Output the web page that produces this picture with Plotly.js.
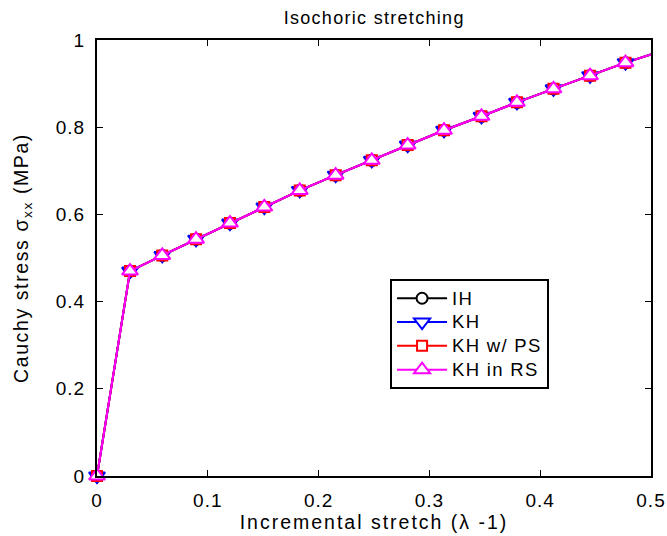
<!DOCTYPE html>
<html>
<head>
<meta charset="utf-8">
<script src="https://cdn.plot.ly/plotly-3.0.1.min.js"></script>
<style>
html,body{margin:0;padding:0;background:#fff;}
#plot{width:667px;height:536px;}
.xtick text, .ytick text {letter-spacing:1px;}
.xtitle {letter-spacing:2px;}
.ytitle {letter-spacing:1.6px;}
.gtitle {letter-spacing:1.3px;}
.legendtext {letter-spacing:1.3px; font-size:18.5px !important;}
</style>
</head>
<body>
<div id="plot"></div>
<script>
// Incremental stretch (lambda - 1) at the marked points
const stretch = [0, 0.0298, 0.0589, 0.0894, 0.120, 0.151, 0.183, 0.2154, 0.248, 0.2804, 0.3132, 0.347, 0.379, 0.412, 0.445, 0.477];
const stressIH      = [0, 0.470, 0.506, 0.543, 0.580, 0.617, 0.655, 0.690, 0.724, 0.759, 0.793, 0.825, 0.857, 0.888, 0.918, 0.948];
const stressKH      = [0, 0.470, 0.506, 0.543, 0.580, 0.617, 0.655, 0.690, 0.724, 0.759, 0.793, 0.825, 0.857, 0.888, 0.918, 0.948];
const stressKHwPS   = [0, 0.470, 0.506, 0.543, 0.580, 0.617, 0.655, 0.690, 0.724, 0.759, 0.793, 0.825, 0.857, 0.888, 0.918, 0.948];
const stressKHinRS  = [0, 0.470, 0.506, 0.543, 0.580, 0.617, 0.655, 0.690, 0.724, 0.759, 0.793, 0.825, 0.857, 0.888, 0.918, 0.948];
// the curves continue (unmarked) to the right edge of the plot
const stretchEnd = 0.5;
const stressEnd = [0.967, 0.967, 0.967, 0.967];
const seriesNames = ["IH", "KH", "KH w/ PS", "KH in RS"];
const seriesColors = ["#000000", "#0000ff", "#ff0000", "#ff00ff"];
const seriesSymbols = ["circle", "triangle-down", "square", "triangle-up"];
const seriesData = [stressIH, stressKH, stressKHwPS, stressKHinRS];

const baseSizes = [11, 14, 10, 14];
const traces = [];
seriesData.forEach((ys, i) => {
  traces.push({
    x: [stretch[stretch.length - 1], stretchEnd],
    y: [ys[ys.length - 1], stressEnd[i]],
    type: "scatter", mode: "lines", showlegend: false, hoverinfo: "skip",
    line: {color: seriesColors[i], width: 2}
  });
});
seriesData.forEach((ys, i) => {
  traces.push({
    x: stretch,
    y: ys,
    name: seriesNames[i],
    type: "scatter",
    mode: "lines+markers",
    cliponaxis: false,
    line: {color: seriesColors[i], width: 2},
    marker: {
      symbol: seriesSymbols[i],
      size: baseSizes[i],
      color: "#ffffff",
      line: {color: seriesColors[i], width: 2}
    }
  });
});

const fontFam = "Liberation Sans, Arial, Helvetica, sans-serif";
const layout = {
  width: 667,
  height: 536,
  margin: {l: 97, r: 16, t: 40, b: 60},
  paper_bgcolor: "#fff",
  plot_bgcolor: "#fff",
  font: {family: fontFam, size: 18, color: "#000"},
  title: {text: "Isochoric stretching", font: {family: fontFam, size: 18, color: "#000"}, x: 0.561, xanchor: "center", y: 0.967, yanchor: "middle"},
  showlegend: true,
  legend: {
    x: 0.529, y: 0.451, xanchor: "left", yanchor: "top",
    bgcolor: "#fff", bordercolor: "#000", borderwidth: 2,
    font: {family: fontFam, size: 16, color: "#000"},
    itemwidth: 50,
    tracegroupgap: 0
  },
  xaxis: {
    range: [0, 0.5],
    dtick: 0.1, tick0: 0,
    ticks: "inside", ticklen: 6, tickwidth: 1, tickcolor: "#000",
    mirror: "ticks", showline: true, linecolor: "#000", linewidth: 2,
    showgrid: false, zeroline: false,
    ticklabelstandoff: 6,
    tickfont: {family: fontFam, size: 19, color: "#000"},
    title: {text: "Incremental stretch (λ -1)", font: {family: fontFam, size: 19.5, color: "#000"}, standoff: 3}
  },
  yaxis: {
    range: [0, 1],
    dtick: 0.2, tick0: 0,
    ticks: "inside", ticklen: 6, tickwidth: 1, tickcolor: "#000",
    mirror: "ticks", showline: true, linecolor: "#000", linewidth: 2,
    showgrid: false, zeroline: false,
    ticklabelstandoff: 6,
    tickfont: {family: fontFam, size: 19, color: "#000"},
    title: {text: "Cauchy stress σ<sub>xx</sub> (MPa)", font: {family: fontFam, size: 19.5, color: "#000"}, standoff: 22}
  }
};

Plotly.newPlot("plot", traces, layout, {displayModeBar: false, staticPlot: true});
</script>
</body>
</html>
